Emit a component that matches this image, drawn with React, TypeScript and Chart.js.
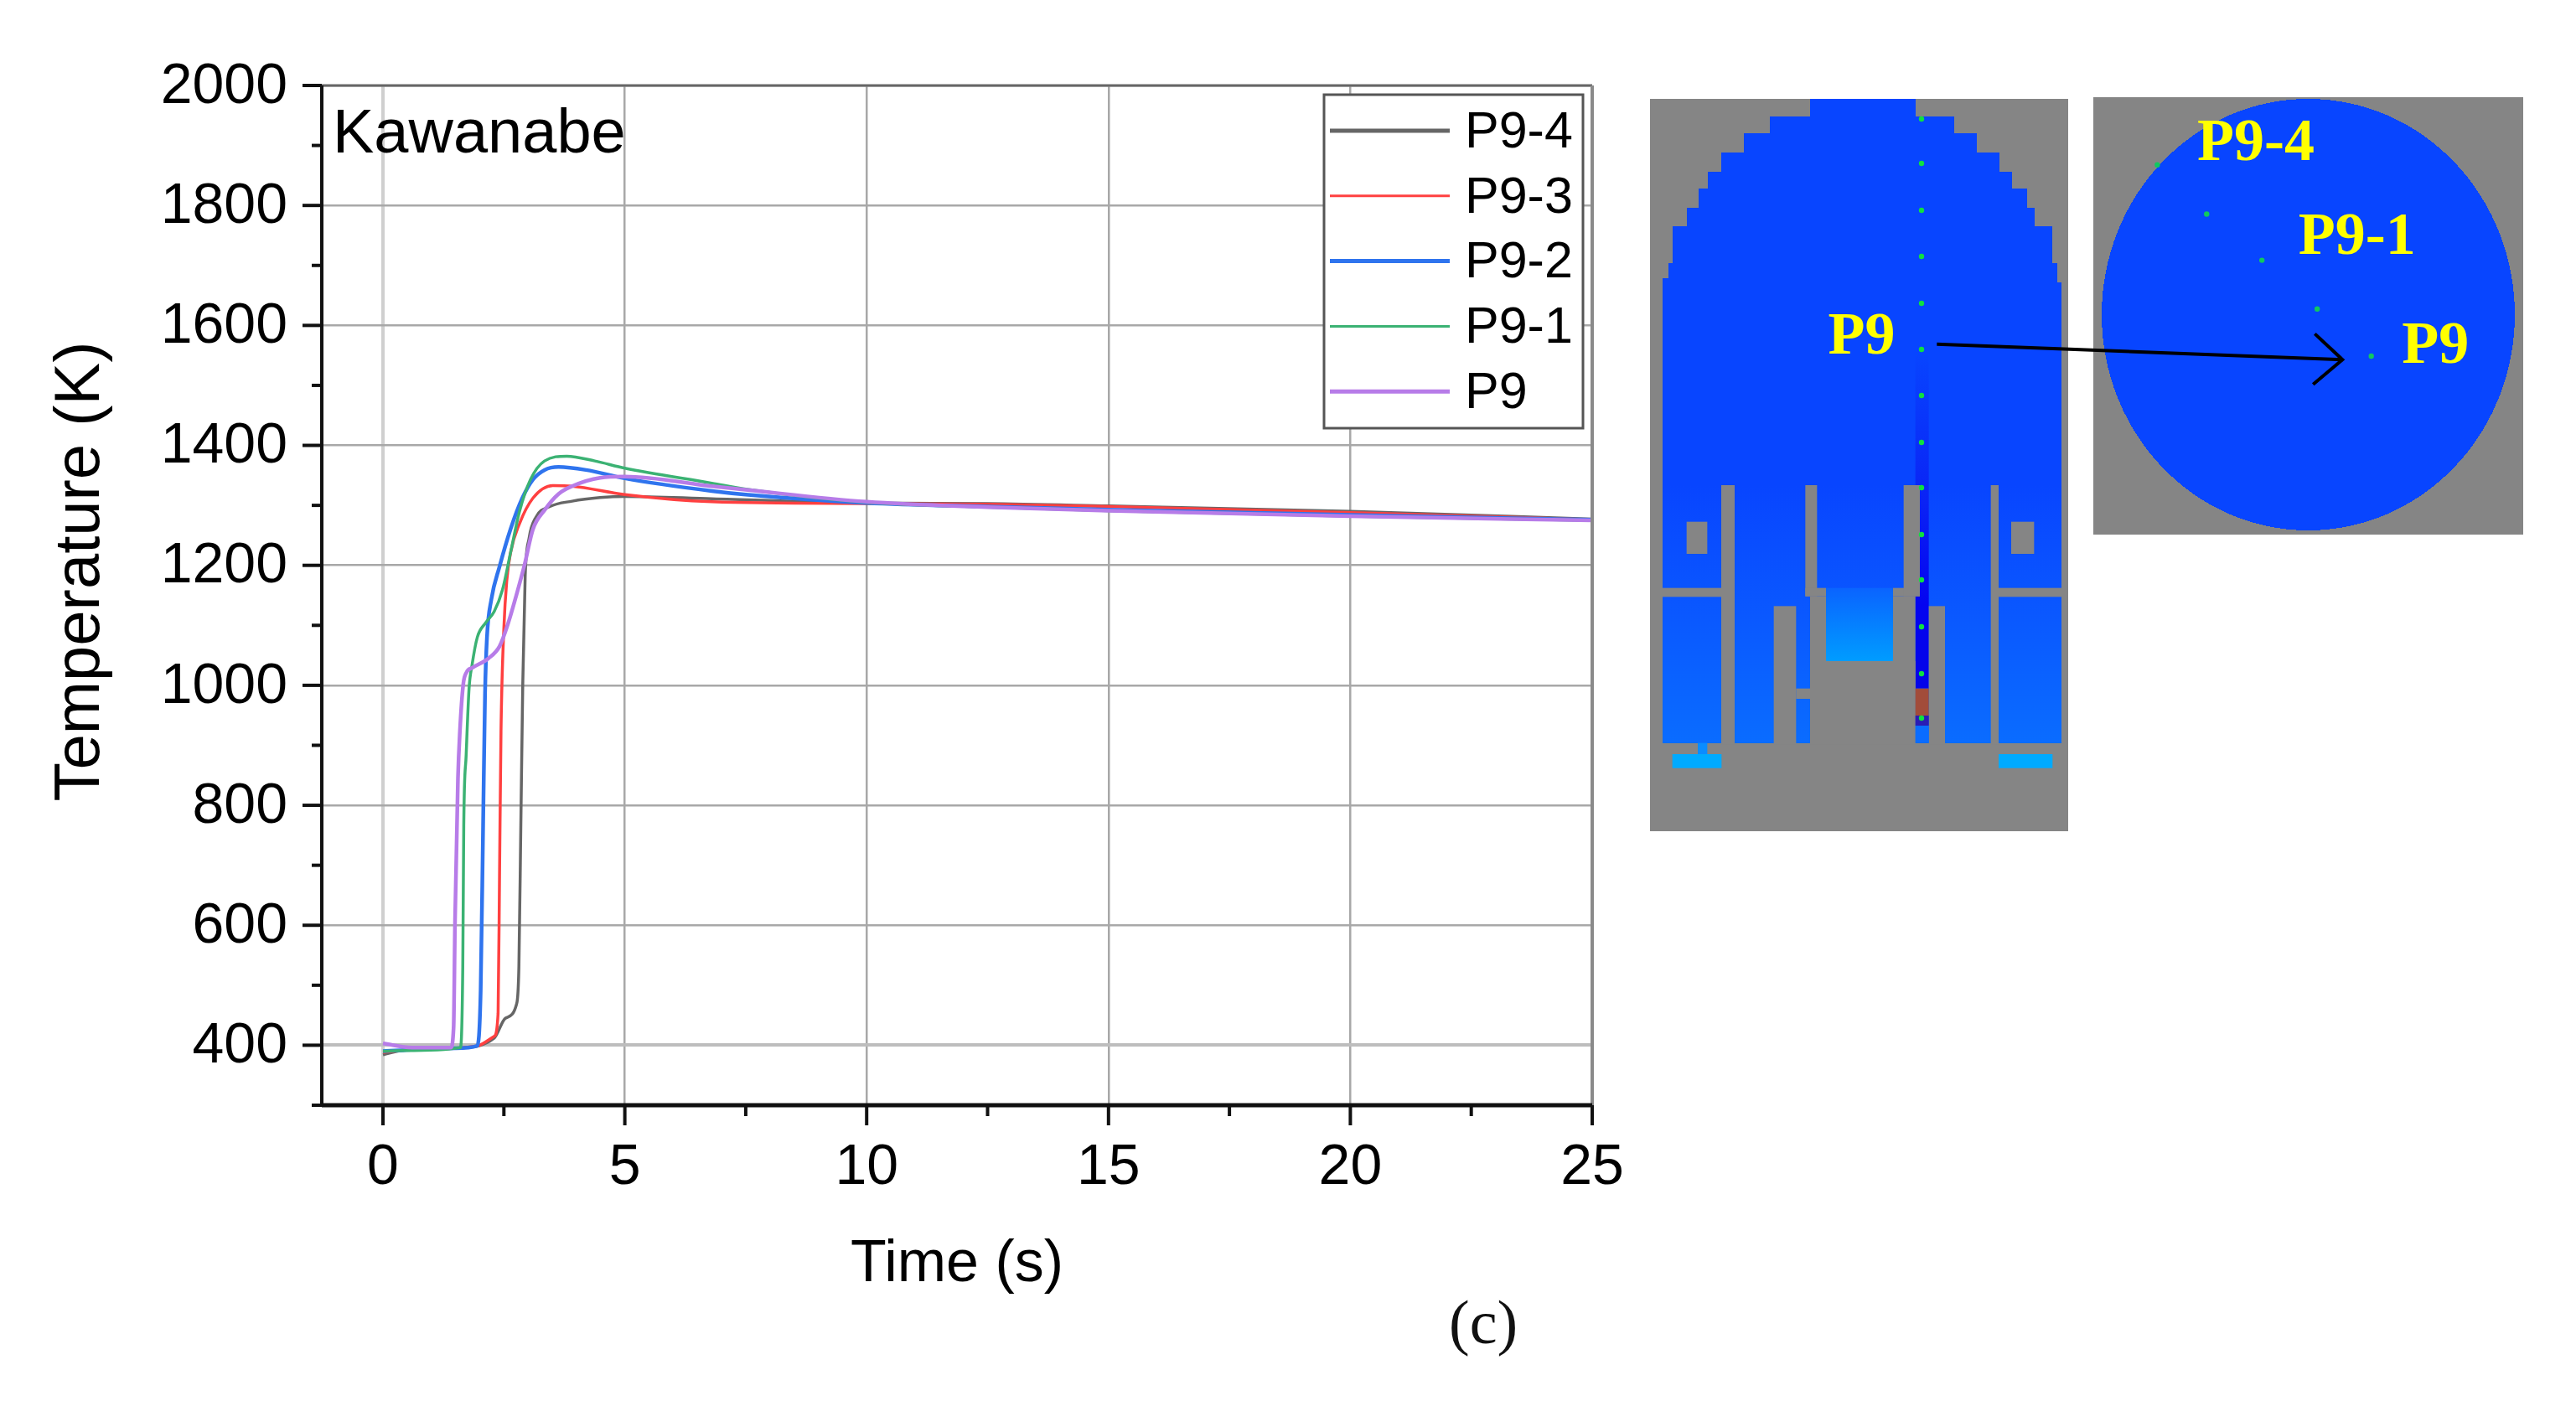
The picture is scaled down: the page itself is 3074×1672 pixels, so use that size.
import React, { useEffect, useRef } from "react";
import { Chart, registerables } from "chart.js";

Chart.register(...registerables);

const SANS = '"Liberation Sans", Arial, sans-serif';
const SERIF = '"Liberation Serif", "Times New Roman", serif';

const xTitle = "Time (s)";
const yTitle = "Temperature (K)";
const panelNote = "Kawanabe";
const xTicks = [0, 2.5, 5, 7.5, 10, 12.5, 15, 17.5, 20, 22.5, 25];
const tail = [7.5, 10, 12.5, 15, 20, 25];

const p94T = [0, 0.45, 1.5, 2.3, 2.53, 2.76, 2.81, 2.85, 2.89, 2.94, 3.02, 3.16, 3.45, 3.91, 4.49, 5, 6.8, ...tail.slice(1)];
const p94V = [384, 392, 395, 412, 445, 468, 531, 766, 1002, 1182, 1245, 1280, 1298, 1307, 1313, 1315, 1311, 1304, 1303, 1299, 1290, 1277];
const p93T = [0, 0.45, 1.5, 1.95, 2.3, 2.38, 2.41, 2.44, 2.5, 2.56, 2.64, 2.82, 3.1, 3.51, 3.91, 5, 6.8, ...tail.slice(1)];
const p93V = [388, 392, 395, 399, 415, 453, 688, 923, 1096, 1175, 1222, 1269, 1312, 1333, 1332, 1318, 1306, 1303, 1302, 1298, 1288, 1276];
const p92T = [0, 0.45, 1.5, 1.95, 2.02, 2.07, 2.11, 2.15, 2.24, 2.41, 2.64, 2.88, 3.1, 3.34, 3.63, 4.2, 5, 6.8, ...tail];
const p92V = [390, 392, 395, 399, 492, 766, 986, 1080, 1143, 1198, 1261, 1312, 1343, 1359, 1364, 1359, 1345, 1324, 1318, 1304, 1298, 1293, 1284, 1276];
const p91T = [0, 0.45, 1.6, 1.65, 1.67, 1.72, 1.78, 1.84, 1.95, 2.12, 2.3, 2.47, 2.64, 2.82, 3.05, 3.34, 3.8, 4.38, 5, 6.8, ...tail];
const p91V = [390, 391, 396, 531, 766, 884, 995, 1033, 1080, 1104, 1123, 1159, 1222, 1289, 1343, 1374, 1382, 1374, 1362, 1337, 1327, 1305, 1297, 1291, 1282, 1275];
const p9T = [0, 0.6, 1.4, 1.46, 1.49, 1.55, 1.59, 1.66, 1.73, 1.84, 2.18, 2.41, 2.59, 2.76, 2.93, 3.1, 3.34, 3.63, 3.91, 4.49, 5, 6.8, ...tail];
const p9V = [403, 396, 396, 429, 609, 845, 923, 1002, 1022, 1029, 1045, 1065, 1104, 1151, 1202, 1260, 1292, 1319, 1332, 1346, 1348, 1332, 1326, 1306, 1297, 1291, 1282, 1275];

const seriesNames = ["P9-4", "P9-3", "P9-2", "P9-1", "P9"];
const seriesTimes = [p94T, p93T, p92T, p91T, p9T];
const seriesValues = [p94V, p93V, p92V, p91V, p9V];
const seriesColors = ["#666666", "#ff4040", "#2f74ee", "#3bb273", "#b77ce8"];
const seriesWidths = [3.5, 3.5, 4.5, 3.5, 4.5];
const legendWidths = [5, 3, 5, 3, 5];

// schematic markers and outlines, in reference crop positions
const axialDotsY = [142, 195, 251, 306, 362, 417, 472, 528, 582, 638, 692, 748, 804, 857];
const planDots = [[890, 180], [974, 279], [1068, 372], [1162, 470], [1254, 565]];

const X = (p: number) => 1950 + p * 0.7015;
const Y = (p: number) => 90 + p * 0.593;
const Xc = (p: number) => 1960 + p / 3;
const Yt = (p: number) => 110 + p / 3;
const Yb = (p: number) => 560 + p / 3;

const domeLeft = [[600, 25], [600, 88], [455, 88], [455, 148], [363, 148], [363, 215], [282, 215], [282, 285], [233, 285], [233, 345], [200, 345], [200, 415], [158, 415], [158, 480], [108, 480], [108, 612], [92, 612], [92, 665], [72, 665]];
const domeRight = [[977, 25], [977, 88], [1117, 88], [1117, 148], [1197, 148], [1197, 215], [1277, 215], [1277, 285], [1322, 285], [1322, 345], [1378, 345], [1378, 415], [1403, 415], [1403, 480], [1468, 480], [1468, 612], [1484, 612], [1484, 680], [1500, 680]];
const grayBlocks = [
  [282, 57, 330, 985], [583, 57, 625, 455], [583, 425, 657, 455], [600, 455, 657, 985],
  [897, 425, 993, 455], [935, 57, 993, 455], [897, 455, 977, 985], [600, 687, 977, 985],
  [470, 490, 550, 985], [550, 785, 600, 822], [1025, 490, 1083, 985], [1247, 57, 1275, 985],
  [158, 188, 232, 303], [1320, 188, 1402, 303], [72, 425, 282, 457], [1275, 425, 1500, 457],
];

function Rect({ b, fill }: { b: number[]; fill: string }) {
  return <rect x={Xc(b[0])} y={Yb(b[1])} width={(b[2] - b[0]) / 3} height={(b[3] - b[1]) / 3} fill={fill} />;
}

function Label({ x, y, t }: { x: number; y: number; t: string }) {
  return (
    <text x={X(x)} y={Y(y)} fill="#ffff00" fontFamily={SERIF} fontWeight="bold" fontSize={72}>
      {t}
    </text>
  );
}

function Schematic() {
  const dome = [
    ...domeLeft.map((p) => [Xc(p[0]), Yt(p[1])]),
    [Xc(72), Yb(980)],
    [Xc(1500), Yb(980)],
    ...domeRight.slice().reverse().map((p) => [Xc(p[0]), Yt(p[1])]),
  ]
    .map((p) => `${p[0]},${p[1]}`)
    .join(" ");
  return (
    <svg width={3074} height={1672} style={{ position: "absolute", left: 0, top: 0, pointerEvents: "none" }}>
      <defs>
        <linearGradient id="body" x1="0" y1="0" x2="0" y2="1">
          <stop offset="0" stopColor="#0845ff" />
          <stop offset="0.6" stopColor="#0845ff" />
          <stop offset="0.8" stopColor="#0a58ff" />
          <stop offset="1" stopColor="#0a6cff" />
        </linearGradient>
        <linearGradient id="pool" x1="0" y1="0" x2="0" y2="1">
          <stop offset="0" stopColor="#0a64ff" />
          <stop offset="1" stopColor="#009cff" />
        </linearGradient>
        <linearGradient id="chan" x1="0" y1="0" x2="0" y2="1">
          <stop offset="0" stopColor="#0845ff" />
          <stop offset="0.45" stopColor="#0a22f5" />
          <stop offset="0.75" stopColor="#0404f0" />
          <stop offset="1" stopColor="#0404e8" />
        </linearGradient>
      </defs>
      <rect x={1969} y={118} width={499} height={874} fill="#858585" />
      <polygon points={dome} fill="url(#body)" shapeRendering="crispEdges" />
      <rect x={Xc(977)} y={420} width={16} height={Yb(785) - 420} fill="url(#chan)" />
      {grayBlocks.map((b, i) => <Rect key={i} b={b} fill="#858585" />)}
      <Rect b={[657, 425, 897, 687]} fill="url(#pool)" />
      <Rect b={[977, 785, 1025, 882]} fill="#a24c3a" />
      <Rect b={[977, 882, 1025, 918]} fill="#2a1cb4" />
      <Rect b={[977, 918, 1025, 980]} fill="#0a6cff" />
      <Rect b={[107, 1020, 283, 1070]} fill="#00aaff" />
      <Rect b={[1275, 1020, 1468, 1070]} fill="#00aaff" />
      <Rect b={[198, 980, 232, 1020]} fill="#0a8cff" />
      {axialDotsY.map((y, i) => <circle key={i} cx={2293} cy={y} r={3.2} fill="#10e040" />)}

      <rect x={2498} y={116} width={513} height={522} fill="#858585" />
      <ellipse cx={2754.5} cy={375.5} rx={246.5} ry={257.5} fill="#0845ff" shapeRendering="crispEdges" />
      {planDots.map((d, i) => <circle key={i} cx={X(d[0])} cy={Y(d[1])} r={3.2} fill="#10c860" />)}

      <Label x={330} y={560} t="P9" />
      <Label x={958} y={170} t="P9-4" />
      <Label x={1130} y={360} t="P9-1" />
      <Label x={1306} y={578} t="P9" />
      <line x1={X(515)} y1={Y(541)} x2={X(1205)} y2={Y(572)} stroke="#000" strokeWidth={4} />
      <polyline points={`${X(1158)},${Y(520)} ${X(1205)},${Y(572)} ${X(1155)},${Y(622)}`} fill="none" stroke="#000" strokeWidth={4} />
      <text x={1729} y={1603} fill="#111" fontFamily={SERIF} fontSize={74}>(c)</text>
    </svg>
  );
}

const framePlugin = {
  id: "frame",
  afterDatasetsDraw(chart: any) {
    const { ctx, chartArea: a, scales } = chart;
    const { x, y } = scales;
    ctx.save();
    // top and right frame
    ctx.strokeStyle = "#666";
    ctx.lineWidth = 3;
    ctx.beginPath(); ctx.moveTo(a.left, a.top); ctx.lineTo(a.right, a.top); ctx.stroke();
    ctx.strokeStyle = "#8a8a8a";
    ctx.lineWidth = 4;
    ctx.beginPath(); ctx.moveTo(a.right, a.top); ctx.lineTo(a.right, a.bottom); ctx.stroke();
    // axis lines
    ctx.strokeStyle = "#111";
    ctx.lineWidth = 4;
    ctx.beginPath(); ctx.moveTo(a.left, a.top); ctx.lineTo(a.left, a.bottom); ctx.stroke();
    ctx.lineWidth = 5;
    ctx.beginPath(); ctx.moveTo(a.left, a.bottom); ctx.lineTo(a.right, a.bottom); ctx.stroke();
    // ticks, major and minor
    ctx.lineWidth = 4;
    y.ticks.forEach((t: any) => {
      const p = y.getPixelForValue(t.value);
      const len = t.value % 200 === 0 ? 23 : 12;
      ctx.beginPath(); ctx.moveTo(a.left - len, p); ctx.lineTo(a.left, p); ctx.stroke();
    });
    x.ticks.forEach((t: any) => {
      const p = x.getPixelForValue(t.value);
      const len = t.value % 5 === 0 ? 24 : 13;
      ctx.beginPath(); ctx.moveTo(p, a.bottom); ctx.lineTo(p, a.bottom + len); ctx.stroke();
    });
    // panel note and y title
    ctx.fillStyle = "#000";
    ctx.textAlign = "left";
    ctx.textBaseline = "alphabetic";
    ctx.font = `74px ${SANS}`;
    ctx.fillText(panelNote, 397, 182);
    ctx.save();
    ctx.translate(118, 682);
    ctx.rotate(-Math.PI / 2);
    ctx.textAlign = "center";
    ctx.font = `76px ${SANS}`;
    ctx.fillText(yTitle, 0, 0);
    ctx.restore();
    // legend
    const lx = 1580, ly = 113, lw = 309, lh = 398;
    ctx.fillStyle = "#fff";
    ctx.fillRect(lx, ly, lw, lh);
    ctx.strokeStyle = "#555";
    ctx.lineWidth = 3;
    ctx.strokeRect(lx, ly, lw, lh);
    seriesNames.forEach((name, i) => {
      const ry = 156 + i * 77.8;
      ctx.strokeStyle = seriesColors[i];
      ctx.lineWidth = legendWidths[i];
      ctx.beginPath(); ctx.moveTo(1587, ry); ctx.lineTo(1730, ry); ctx.stroke();
      ctx.fillStyle = "#000";
      ctx.textBaseline = "middle";
      ctx.font = `61px ${SANS}`;
      ctx.fillText(name, 1748, ry + 3);
    });
    ctx.restore();
  },
};

export default function App() {
  const ref = useRef<HTMLCanvasElement>(null);
  useEffect(() => {
    const chart = new Chart(ref.current as HTMLCanvasElement, {
      type: "line",
      data: {
        datasets: seriesNames.map((name, i) => ({
          label: name,
          data: seriesTimes[i].map((t, j) => ({ x: t, y: seriesValues[i][j] })),
          borderColor: seriesColors[i],
          backgroundColor: seriesColors[i],
          borderWidth: seriesWidths[i],
          pointRadius: 0,
          cubicInterpolationMode: "monotone" as const,
          order: seriesNames.length - i,
        })),
      },
      options: {
        responsive: false,
        animation: false,
        layout: { padding: { top: 102, right: 1174, left: 0, bottom: 0 } },
        plugins: { legend: { display: false }, tooltip: { enabled: false }, title: { display: false } },
        scales: {
          x: {
            type: "linear",
            min: -1.265,
            max: 25,
            afterBuildTicks: (s: any) => { s.ticks = xTicks.map((value) => ({ value })); },
            afterFit: (s: any) => { s.height = 353; },
            border: { display: false },
            grid: {
              drawTicks: false,
              lineWidth: (c: any) => (c.tick && c.tick.value === 0 ? 4 : 2.5),
              color: (c: any) => {
                if (!c.tick || c.tick.value % 5 !== 0) return "rgba(0,0,0,0)";
                return c.tick.value === 0 ? "#cfcfcf" : "#a8a8a8";
              },
            },
            ticks: {
              autoSkip: false,
              maxRotation: 0,
              padding: 34,
              color: "#000",
              font: { family: SANS, size: 68 },
              callback: (v: any) => (Number(v) % 5 === 0 ? String(v) : ""),
            },
            title: {
              display: true,
              text: xTitle,
              color: "#000",
              font: { family: SANS, size: 70 },
              padding: { top: 0, bottom: 120 },
            },
          },
          y: {
            type: "linear",
            min: 300,
            max: 2000,
            afterFit: (s: any) => { s.width = 384; },
            border: { display: false },
            grid: {
              drawTicks: false,
              lineWidth: (c: any) => (c.tick && c.tick.value === 400 ? 4 : 2.5),
              color: (c: any) => {
                if (!c.tick || c.tick.value % 200 !== 0) return "rgba(0,0,0,0)";
                return c.tick.value === 400 ? "#bdbdbd" : "#a8a8a8";
              },
            },
            ticks: {
              stepSize: 100,
              autoSkip: false,
              padding: 41,
              labelOffset: 2,
              color: "#000",
              font: { family: SANS, size: 68 },
              callback: (v: any) => (Number(v) % 200 === 0 ? String(v) : ""),
            },
          },
        },
      },
      plugins: [framePlugin],
    } as any);
    return () => chart.destroy();
  }, []);
  return (
    <div style={{ position: "absolute", left: 0, top: 0, width: 3074, height: 1672, background: "#fff" }}>
      <canvas ref={ref} width={3074} height={1672} style={{ position: "absolute", left: 0, top: 0 }} />
      <Schematic />
    </div>
  );
}
